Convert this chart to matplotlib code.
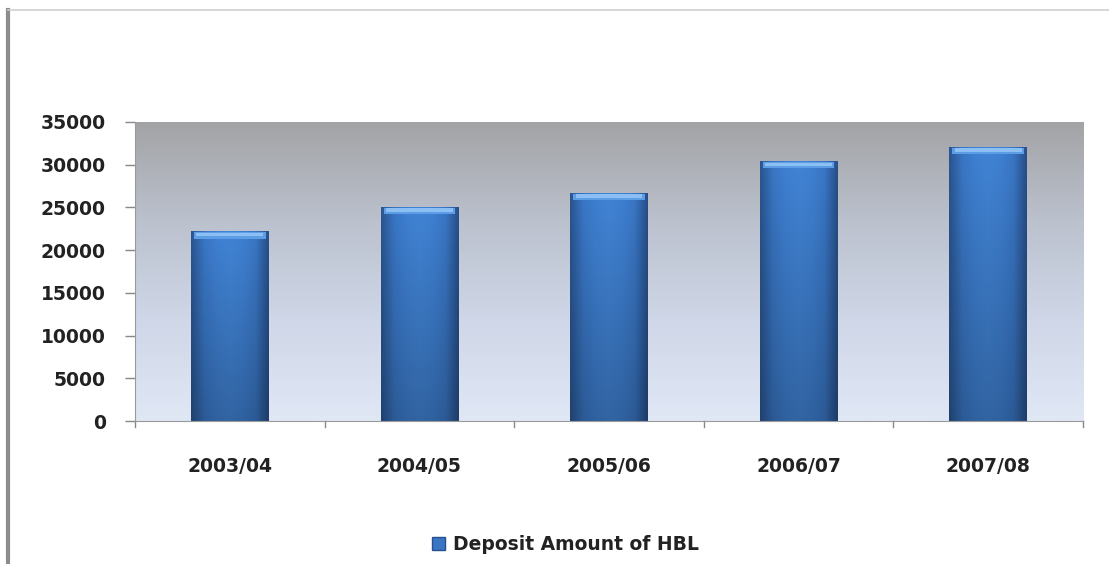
import numpy as np
import matplotlib.pyplot as plt
from matplotlib.colors import LinearSegmentedColormap
from matplotlib.patches import Patch
from matplotlib.lines import Line2D

plt.rcParams["font.family"] = ["DejaVu Sans"]

years = ["2003/04", "2004/05", "2005/06", "2006/07", "2007/08"]
deposits = [22200, 25100, 26700, 30400, 32100]
y_ticks = [0, 5000, 10000, 15000, 20000, 25000, 30000, 35000]
series_name = "Deposit Amount of HBL"

fig = plt.figure(figsize=(11.09, 5.64), dpi=100)
fig.patch.set_facecolor("white")
ax = fig.add_axes([0.1217, 0.2535, 0.8549, 0.5302])

x = np.arange(len(years))
ax.set_xlim(-0.5, len(years) - 0.5)
ax.set_ylim(0, 35000)

# plot-area background: gray at the top fading to pale blue
bg = LinearSegmentedColormap.from_list(
    "bg", ["#e0e7f5", "#cfd7e8", "#bbc1cd", "#a2a3a5"])
grad = np.linspace(0, 1, 256).reshape(-1, 1)
ax.imshow(grad, cmap=bg, aspect="auto", origin="lower",
          extent=[-0.5, len(years) - 0.5, 0, 35000], zorder=0)

bars = ax.bar(x, deposits, width=0.41, color="#3a74c4", zorder=2,
              edgecolor="none")

# bevelled look: darker sides, lighter middle, darker toward the base
side = LinearSegmentedColormap.from_list(
    "side", ["#2a5590", "#3976c4", "#3f80d2", "#4184d5", "#3f80d2",
             "#3976c4", "#274e88"])
h = np.linspace(0, 1, 200)
for rect, val in zip(bars, deposits):
    x0 = rect.get_x()
    w = rect.get_width()
    horiz = side(h)[None, :, :3]
    vert = np.linspace(0.76, 1.0, 200)[:, None, None]
    img = np.clip(horiz * vert, 0, 1)
    im = ax.imshow(img, origin="lower", aspect="auto",
                   extent=[x0, x0 + w, 0, val], zorder=3)
    im.set_clip_path(rect)
    # light cap along the top edge
    cap = 0.024 * 35000
    ax.fill_between([x0 + w * 0.04, x0 + w * 0.96], val - cap, val - cap * 0.15,
                    color="#5d9de6", zorder=4, linewidth=0)
    ax.fill_between([x0 + w * 0.07, x0 + w * 0.93], val - cap * 0.7,
                    val - cap * 0.2, color="#8cc0f4", zorder=4, linewidth=0)

ax.set_yticks(y_ticks)
ax.set_yticklabels([str(v) for v in y_ticks], fontsize=13.5, fontweight="bold",
                   color="#222222")
ax.set_xticks(x)
ax.set_xticklabels(years, fontsize=13.5, fontweight="bold", color="#222222")
ax.tick_params(axis="x", length=0, pad=26)
ax.tick_params(axis="y", length=7, color="#888888", width=1, pad=14)

# category boundary ticks below the axis
for b in np.arange(-0.5, len(years), 1.0):
    ax.plot([b, b], [0, -750], color="#888888", lw=1, clip_on=False, zorder=5)

for s in ["top", "right"]:
    ax.spines[s].set_visible(False)
ax.spines["left"].set_color("#9a9a9a")
ax.spines["bottom"].set_color("#9a9a9a")
ax.spines["left"].set_zorder(6)
ax.spines["bottom"].set_zorder(6)

handle = Patch(facecolor="#3a74c4", edgecolor="#28508c")
fig.legend([handle], [series_name], loc="center", bbox_to_anchor=(0.51, 0.035),
           frameon=False, prop={"size": 13.5, "weight": "bold"},
           labelcolor="#222222",
           handlelength=0.7, handleheight=0.7, handletextpad=0.4)

# outer frame: heavy left rule and thin top rule
fig.add_artist(Line2D([0.0075, 0.0075], [0, 0.982], transform=fig.transFigure,
                      color="#8c8c8c", lw=3))
fig.add_artist(Line2D([0.0075, 1.0], [0.982, 0.982], transform=fig.transFigure,
                      color="#cfcfcf", lw=1.2))

fig.savefig("out.png", dpi=100, facecolor="white")
